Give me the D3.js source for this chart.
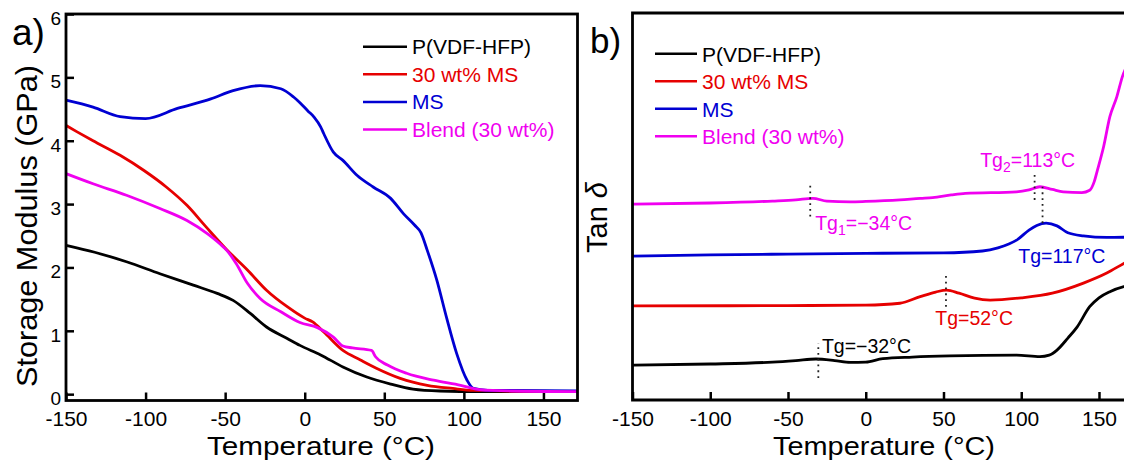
<!DOCTYPE html>
<html>
<head>
<meta charset="utf-8">
<script src="https://cdn.jsdelivr.net/npm/d3@7"></script>
<style>
  body { margin: 0; background: #fff; }
  svg { display: block; font-family: 'Liberation Sans', Arial, sans-serif; }
</style>
</head>
<body>
<div class="container"></div>
<script>
var seriesNames = ['P(VDF-HFP)', '30 wt% MS', 'MS', 'Blend (30 wt%)']
var seriesColors = ['#000000', '#e60000', '#0000d2', '#f000f0']

var xTicks = [-150, -100, -50, 0, 50, 100, 150]
var modTicks = [0, 1, 2, 3, 4, 5, 6]

// (a) storage modulus, GPa
var modPvdf = [[-150, 2.35], [-132, 2.24], [-112, 2.09], [-91, 1.90], [-70, 1.72], [-55, 1.59],
  [-45, 1.48], [-34, 1.27], [-24, 1.06], [-11, 0.88], [-3, 0.77], [10, 0.62], [24, 0.43],
  [39, 0.27], [54, 0.16], [68, 0.08], [85, 0.05], [110, 0.04], [171, 0.04]]
var modComp = [[-150, 4.24], [-143, 4.14], [-133, 4.0], [-116, 3.77], [-101, 3.53], [-87, 3.27],
  [-74, 2.98], [-62, 2.64], [-49, 2.28], [-36, 1.96], [-24, 1.64], [-11, 1.38], [0, 1.2],
  [5, 1.14], [12, 0.98], [24, 0.69], [35, 0.54], [45, 0.41], [60, 0.25], [77, 0.14],
  [93, 0.09], [106, 0.06], [171, 0.04]]
var modMs = [[-150, 4.64], [-133, 4.53], [-116, 4.38], [-100, 4.35], [-80, 4.51], [-59, 4.66],
  [-45, 4.79], [-28, 4.87], [-15, 4.82], [-7, 4.69], [-3, 4.6], [2, 4.47], [6, 4.37],
  [10, 4.22], [12, 4.11], [18, 3.82], [24, 3.69], [33, 3.45], [43, 3.27], [54, 3.09],
  [62, 2.85], [69, 2.67], [73, 2.55], [77, 2.27], [83, 1.80], [89, 1.22], [95.5, 0.64],
  [102, 0.22], [106, 0.09], [115, 0.06], [171, 0.05]]
var modBlend = [[-150, 3.48], [-133, 3.32], [-112, 3.14], [-91, 2.93], [-74, 2.74], [-61, 2.53],
  [-51, 2.32], [-49, 2.27], [-43, 2.06], [-36, 1.75], [-28, 1.51], [-15, 1.30], [-3, 1.13],
  [8, 1.05], [18, 0.90], [24, 0.76], [30, 0.73], [42, 0.69], [44.5, 0.59], [52, 0.46],
  [64, 0.33], [81, 0.22], [98, 0.14], [110, 0.07], [130, 0.05], [171, 0.04]]

// (b) tan delta, curves offset, arbitrary units
var tanPvdf = [[-150, 9.0], [-100, 9.3], [-60, 9.8], [-45, 10.2], [-32, 10.6], [-20, 10.2],
  [-10, 9.7], [0, 9.8], [11, 10.7], [30, 11.1], [54, 11.4], [97, 11.6], [112, 11.2],
  [118, 11.6], [123, 12.9], [130, 16.0], [136, 18.9], [144, 24.1], [150, 26.4], [157, 28.0],
  [166, 29.3], [172, 29.8]]
var tanComp = [[-150, 24.3], [-50, 24.4], [0, 24.5], [22, 25.0], [35, 26.7], [45, 27.9],
  [52, 28.4], [60, 27.6], [70, 26.3], [80, 25.8], [100, 26.4], [120, 27.6], [140, 30.2],
  [155, 32.8], [166, 35.3], [172, 36.6]]
var tanMs = [[-150, 37.2], [-100, 37.5], [-50, 37.7], [0, 37.9], [50, 38.0], [75, 38.5],
  [85, 39.3], [92, 40.3], [97, 41.3], [105, 43.9], [110, 45.1], [116, 45.7], [123, 45.0],
  [130, 43.2], [140, 42.4], [155, 42.0], [172, 42.1]]
var tanBlend = [[-150, 50.6], [-100, 50.9], [-60, 51.4], [-45, 51.7], [-34, 52.1], [-25, 51.4],
  [-10, 51.2], [0, 51.3], [22, 51.7], [35, 52.1], [43, 52.3], [55, 53.0], [64, 53.4],
  [97, 53.8], [105, 54.3], [112, 55.1], [120, 54.4], [127, 53.8], [139, 53.6], [144, 54.2],
  [147, 56.5], [149, 59.4], [153, 65.5], [157, 73.2], [161.5, 78.4], [165, 83.5], [172, 89]]

// Tg markers: dotted line [temp, from, to] and label [temp, value, text parts]
var tgLines = [[-30.5, 5.7, 14.7, 0], [51.6, 24.1, 32.8, 1], [113.7, 45.7, 55.1, 2],
  [108.6, 51.7, 58.6, 3], [-35.7, 47.4, 56.4, 3]]
var tgLabels = [
  [-28.2, 12.1, 'Tg', '', '=\u221232\u00b0C', 0],
  [44.7, 19.4, 'Tg', '', '=52\u00b0C', 1],
  [98.1, 35.4, 'Tg', '', '=117\u00b0C', 2],
  [73.6, 60.3, 'Tg', '2', '=113\u00b0C', 3],
  [-32.5, 43.9, 'Tg', '1', '=\u221234\u00b0C', 3]
]

var svg = d3.select('.container').append('svg')
  .attr('width', 1124)
  .attr('height', 464)

var ax = d3.scaleLinear().domain([-150, 171.4]).range([66, 577.5])
var ay = d3.scaleLinear().domain([-0.1, 6]).range([400.5, 14])
var bx = d3.scaleLinear().domain([-150, 172]).range([632.5, 1133.2])
var by = d3.scaleLinear().domain([0, 100]).range([400, 13])

function styleAxis(g, size) {
  g.select('.domain').remove()
  g.selectAll('.tick line').attr('stroke', '#000').attr('stroke-width', 2.5)
  g.selectAll('.tick text')
    .attr('fill', '#000')
    .style('font-size', size + 'px')
    .style('font-family', "'Liberation Sans', Arial, sans-serif")
}

function drawLines(x, y, sets) {
  var line = d3.line()
    .x(function(d) { return x(d[0]) })
    .y(function(d) { return y(d[1]) })
    .curve(d3.curveMonotoneX)
  svg.append('g').selectAll('path')
    .data(sets)
    .enter().append('path')
      .attr('d', line)
      .attr('fill', 'none')
      .attr('stroke', function(d, i) { return seriesColors[i] })
      .attr('stroke-width', 2.8)
      .attr('stroke-linejoin', 'round')
}

function drawLegend(x1, x2, tx, base, step, lift) {
  var g = svg.append('g')
  seriesNames.forEach(function(name, i) {
    var yy = base + i * step
    g.append('line')
      .attr('x1', x1).attr('x2', x2)
      .attr('y1', yy - lift).attr('y2', yy - lift)
      .attr('stroke', seriesColors[i])
      .attr('stroke-width', 2.5)
    g.append('text')
      .attr('x', tx).attr('y', yy)
      .attr('fill', seriesColors[i])
      .style('font-size', '21px')
      .text(name)
  })
}

// ---- panel a ----
svg.append('g')
  .attr('transform', 'translate(0,400.5)')
  .call(d3.axisBottom(ax).tickValues(xTicks).tickSize(-8).tickPadding(11).tickFormat(String))
  .call(styleAxis, 21)

svg.append('g')
  .attr('transform', 'translate(66,0)')
  .call(d3.axisLeft(ay).tickValues(modTicks).tickSize(-8).tickPadding(5).tickFormat(String))
  .call(styleAxis, 19)
  .selectAll('.tick text').attr('dy', '0.55em')

drawLines(ax, ay, [modPvdf, modComp, modMs, modBlend])

svg.append('rect')
  .attr('x', ax.range()[0]).attr('y', ay.range()[1])
  .attr('width', ax.range()[1] - ax.range()[0])
  .attr('height', ay.range()[0] - ay.range()[1])
  .attr('fill', 'none')
  .attr('stroke', '#000')
  .attr('stroke-width', 2.8)

drawLegend(363, 407, 412, 54, 27.6, 7.3)

svg.append('text')
  .attr('x', 12).attr('y', 45)
  .style('font-size', '37px')
  .text('a)')

svg.append('text')
  .attr('x', 207).attr('y', 455)
  .attr('textLength', 228)
  .attr('lengthAdjust', 'spacingAndGlyphs')
  .style('font-size', '25px')
  .text('Temperature (\u00b0C)')

svg.append('text')
  .attr('transform', 'translate(37,226) rotate(-90)')
  .attr('text-anchor', 'middle')
  .attr('textLength', 322)
  .attr('lengthAdjust', 'spacingAndGlyphs')
  .style('font-size', '30px')
  .text('Storage Modulus (GPa)')

// ---- panel b ----
svg.append('g')
  .attr('transform', 'translate(0,400)')
  .call(d3.axisBottom(bx).tickValues(xTicks).tickSize(-8).tickPadding(11).tickFormat(String))
  .call(styleAxis, 21)

drawLines(bx, by, [tanPvdf, tanComp, tanMs, tanBlend])

svg.append('path')
  .attr('d', 'M' + bx.range()[1] + ',' + by.range()[1] + 'H' + bx.range()[0] +
    'V' + by.range()[0] + 'H' + bx.range()[1])
  .attr('fill', 'none')
  .attr('stroke', '#000')
  .attr('stroke-width', 2.8)

svg.append('g').selectAll('line')
  .data(tgLines)
  .enter().append('line')
    .attr('x1', function(d) { return bx(d[0]) })
    .attr('x2', function(d) { return bx(d[0]) })
    .attr('y1', function(d) { return by(d[1]) })
    .attr('y2', function(d) { return by(d[2]) })
    .attr('stroke', '#222')
    .attr('stroke-width', 1.8)
    .attr('stroke-dasharray', '1.8,4')

var tg = svg.append('g').selectAll('text')
  .data(tgLabels)
  .enter().append('text')
    .attr('x', function(d) { return bx(d[0]) })
    .attr('y', function(d) { return by(d[1]) })
    .attr('fill', function(d) { return seriesColors[d[5]] })
    .style('font-family', "'Liberation Sans', Arial, sans-serif")
    .style('font-size', '19.5px')
tg.append('tspan').text(function(d) { return d[2] })
tg.append('tspan')
  .attr('dy', function(d) { return d[3] ? 5 : 0 })
  .style('font-size', '14px')
  .text(function(d) { return d[3] })
tg.append('tspan')
  .attr('dy', function(d) { return d[3] ? -5 : 0 })
  .text(function(d) { return d[4] })

drawLegend(655, 697, 702, 61.7, 27.5, 8)

svg.append('text')
  .attr('x', 590).attr('y', 53)
  .style('font-size', '35px')
  .text('b)')

svg.append('text')
  .attr('x', 773).attr('y', 455)
  .attr('textLength', 222)
  .attr('lengthAdjust', 'spacingAndGlyphs')
  .style('font-size', '25px')
  .text('Temperature (\u00b0C)')

var tanTitle = svg.append('text')
  .attr('transform', 'translate(607,217.5) rotate(-90)')
  .attr('text-anchor', 'middle')
  .style('font-size', '29px')
tanTitle.append('tspan').text('Tan ')
tanTitle.append('tspan').style('font-style', 'italic').text('\u03b4')
</script>
</body>
</html>
